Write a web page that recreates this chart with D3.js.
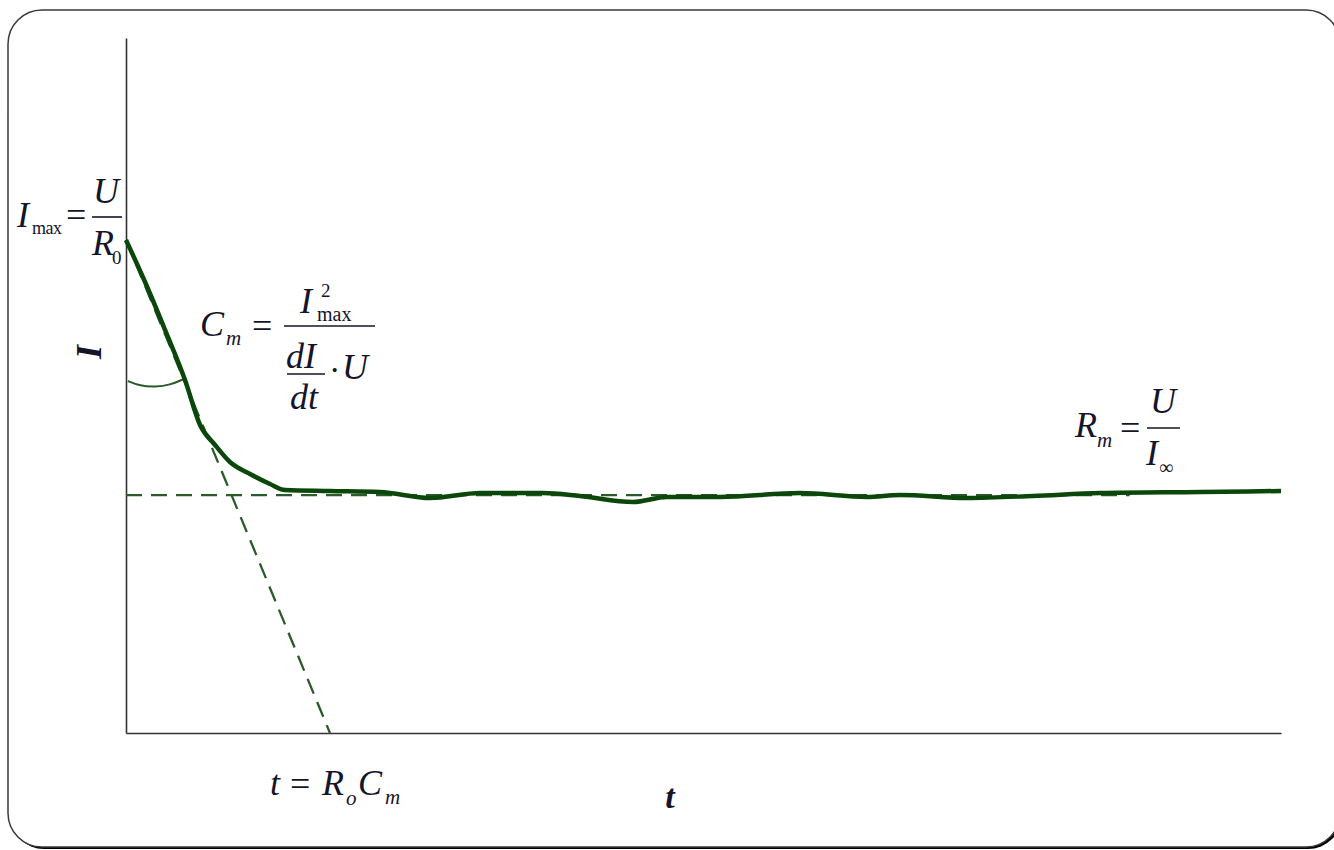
<!DOCTYPE html>
<html>
<head>
<meta charset="utf-8">
<script src="https://cdn.jsdelivr.net/npm/d3@7"></script>
<style>
  body { margin: 0; background: #fff; }
  svg text { font-family: "Liberation Serif", "Times New Roman", serif; fill: #15152a; }
</style>
</head>
<body>
<svg id="chart" width="1334" height="850"></svg>
<script>
// current response (t and I in arbitrary units 0..100)
const curveT = [0, 1.65, 3.38, 5.11, 6.41, 7.71, 9.0, 10.74, 12.47, 13.77, 17.66, 21.99, 26.32, 30.65,
  36.1, 39.31, 43.9, 46.84, 51.43, 58.35, 64.16, 67.01, 72.81, 78.53, 84.33, 92.99, 100]
const curveI = [70.94, 64.89, 57.99, 50.79, 44.32, 41.44, 38.99, 37.27, 35.83, 34.96, 34.82, 34.68, 33.81, 34.53,
  34.53, 34.1, 33.24, 33.96, 33.96, 34.53, 33.96, 34.24, 33.81, 34.1, 34.53, 34.68, 34.82]

// tangent at t=0 and the asymptote I_inf
const tangentT = [0, 17.66]
const tangentI = [70.94, 0]
const asymT = [0, 86.9]
const asymI = [34.24, 34.24]

// small angle arc between axis and tangent
const arcT = [0.17, 1.21, 2.51, 3.81, 5.02]
const arcI = [50.65, 49.93, 49.78, 50.07, 50.94]

const svg = d3.select("#chart")

const x = d3.scaleLinear().domain([0, 100]).range([126, 1281])
const y = d3.scaleLinear().domain([0, 100]).range([733, 38])

// frame with shadow
const frame = svg.append("g")
frame.append("rect")
  .attr("x", 10).attr("y", 12).attr("width", 1332).attr("height", 837)
  .attr("rx", 34).attr("ry", 34)
  .attr("fill", "#000")
frame.append("rect")
  .attr("x", 8).attr("y", 10).attr("width", 1332).attr("height", 837)
  .attr("rx", 34).attr("ry", 34)
  .attr("fill", "#fff").attr("stroke", "#3a3a3a").attr("stroke-width", 1.5)

// axes, no ticks
svg.append("g")
  .attr("transform", `translate(${x(0)},0)`)
  .call(d3.axisLeft(y).ticks(0).tickSizeOuter(0))
svg.append("g")
  .attr("transform", `translate(0,${y(0)})`)
  .call(d3.axisBottom(x).ticks(0).tickSizeOuter(0))
svg.selectAll(".domain").attr("stroke", "#333").attr("stroke-width", 1.6)

const line = d3.line().x(d => x(d[0])).y(d => y(d[1]))
const zip = (a, b) => a.map((v, i) => [v, b[i]])

svg.append("path")
  .attr("d", line(zip(asymT, asymI)))
  .attr("fill", "none").attr("stroke", "#2b5a2b").attr("stroke-width", 2.3)
  .attr("stroke-dasharray", "16,9")

svg.append("path")
  .attr("d", line(zip(tangentT, tangentI)))
  .attr("fill", "none").attr("stroke", "#2b5a2b").attr("stroke-width", 2.3)
  .attr("stroke-dasharray", "16,9")

svg.append("path")
  .attr("d", d3.line().x(d => x(d[0])).y(d => y(d[1])).curve(d3.curveBasis)(zip(arcT, arcI)))
  .attr("fill", "none").attr("stroke", "#2b5a2b").attr("stroke-width", 2)

svg.append("path")
  .attr("d", d3.line().x(d => x(d[0])).y(d => y(d[1])).curve(d3.curveMonotoneX)(zip(curveT, curveI)))
  .attr("fill", "none").attr("stroke", "#0b470b").attr("stroke-width", 4.5)
  .attr("stroke-linejoin", "round")

// helpers for the formulas
function txt(px, py, s, size, opts = {}) {
  return svg.append("text")
    .attr("x", px).attr("y", py)
    .attr("font-size", size)
    .attr("font-style", opts.upright ? "normal" : "italic")
    .attr("font-weight", opts.bold ? "bold" : "normal")
    .attr("text-anchor", opts.anchor || "start")
    .attr("letter-spacing", opts.ls || 0)
    .text(s)
}
function bar(x1, x2, yy) {
  svg.append("line").attr("x1", x1).attr("x2", x2).attr("y1", yy).attr("y2", yy)
    .attr("stroke", "#15152a").attr("stroke-width", 1.6)
}

// axis titles
svg.append("text")
  .attr("transform", "translate(101,352) rotate(-90)")
  .attr("text-anchor", "middle")
  .attr("font-size", 36).attr("font-style", "italic").attr("font-weight", "bold")
  .text("I")
txt(670, 808, "t", 34, { bold: true, anchor: "middle" })

// I_max = U / R_0
txt(17, 227, "I", 36)
txt(32, 234, "max", 18, { upright: true, ls: -0.5 })
txt(66, 227, "=", 36, { upright: true })
bar(92, 122, 217)
txt(106, 203, "U", 36, { anchor: "middle" })
txt(92, 255, "R", 36)
txt(112, 264, "0", 19, { upright: true })

// C_m = I_max^2 / (dI/dt · U)
txt(200, 336, "C", 36)
txt(226, 345, "m", 21)
txt(252, 338, "=", 36, { upright: true })
bar(284, 375, 326)
txt(300, 313, "I", 36)
txt(321, 297, "2", 19, { upright: true })
txt(317, 321, "max", 20, { upright: true })
txt(286, 368, "dI", 36)
bar(287, 325, 374)
txt(290, 409, "dt", 36)
txt(329, 381, "·", 34, { upright: true })
txt(342, 379, "U", 36)

// R_m = U / I_inf
txt(1075, 437, "R", 36)
txt(1097, 447, "m", 21)
txt(1120, 440, "=", 36, { upright: true })
bar(1147, 1180, 428)
txt(1163, 413, "U", 36, { anchor: "middle" })
txt(1146, 465, "I", 36)
txt(1159, 474, "∞", 20, { upright: true })

// t = R_o C_m
txt(270, 795, "t", 36)
txt(290, 796, "=", 36, { upright: true })
txt(322, 795, "R", 36)
txt(346, 805, "o", 21)
txt(358, 795, "C", 36)
txt(385, 804, "m", 21)
</script>
</body>
</html>
